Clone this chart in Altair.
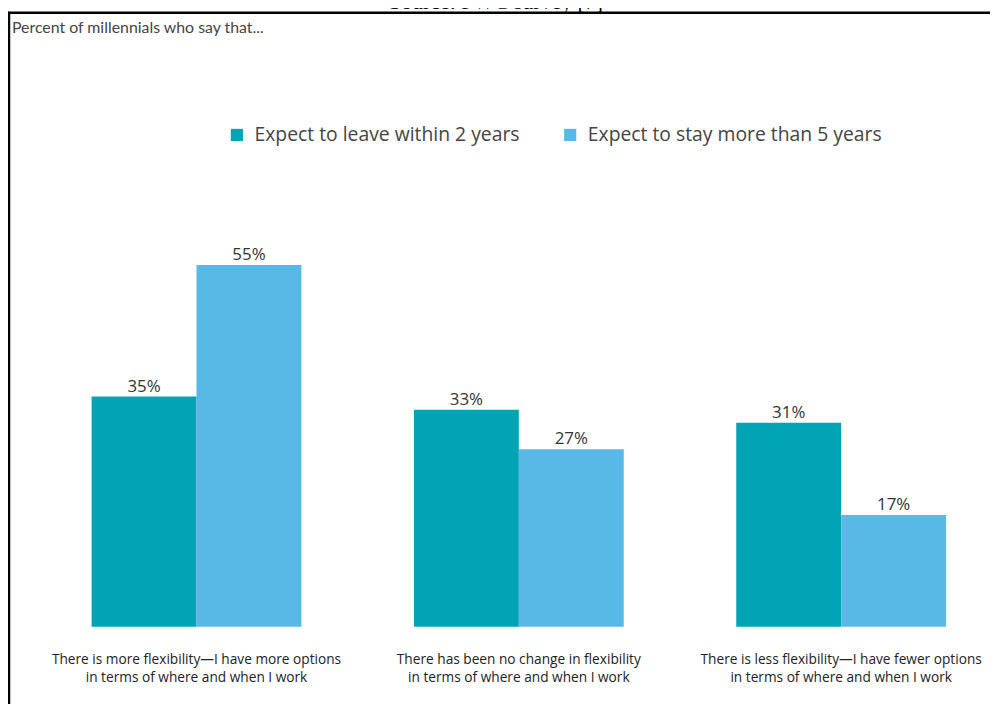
import altair as alt
import pandas as pd

categories = [
    "There is more flexibility\u2014I have more options|in terms of where and when I work",
    "There has been no change in flexibility|in terms of where and when I work",
    "There is less flexibility\u2014I have fewer options|in terms of where and when I work",
]
series = ["Expect to leave within 2 years", "Expect to stay more than 5 years"]
leave_within_2 = [35, 33, 31]
stay_more_5 = [55, 27, 17]
colors = ["#00A4B4", "#58B9E7"]

title_text = "Percent of millennials who say that..."
source_text = "Source: PWC survey [7]"

rows = []
for i, c in enumerate(categories):
    rows.append({"category": c, "series": series[0], "value": leave_within_2[i]})
    rows.append({"category": c, "series": series[1], "value": stay_more_5[i]})
df = pd.DataFrame(rows)
df["label"] = df["value"].astype(str) + "%"

FONT = "Open Sans"

x_enc = alt.X(
    "category:N",
    sort=categories,
    scale=alt.Scale(paddingInner=0.349, paddingOuter=0.0993),
    axis=alt.Axis(
        title=None,
        labelExpr="split(datum.label, '|')",
        labelAngle=0,
        labelLimit=0,
        domain=False,
        ticks=False,
        labelPadding=26,
        labelFont=FONT,
        labelFontSize=13.8,
        labelLineHeight=18,
        labelColor="#222222",
    ),
)
xoff_enc = alt.XOffset("series:N", sort=series, scale=alt.Scale(paddingInner=0, paddingOuter=0))
y_enc = alt.Y("value:Q", scale=alt.Scale(domain=[0, 60], nice=False), axis=None)

base = alt.Chart(df)

bars = base.mark_bar().encode(
    x=x_enc,
    xOffset=xoff_enc,
    y=y_enc,
    color=alt.Color(
        "series:N",
        sort=series,
        scale=alt.Scale(domain=series, range=colors),
        legend=alt.Legend(
            title=None,
            orient="none",
            legendX=169,
            legendY=-108,
            direction="horizontal",
            symbolType="square",
            symbolSize=150,
            symbolStrokeWidth=0,
            labelFont=FONT,
            labelFontSize=19.5,
            labelColor="#444444",
            labelOffset=8,
            columnPadding=41,
            labelLimit=0,
        ),
    ),
)

labels = base.mark_text(baseline="bottom", dy=-1, font=FONT, fontSize=17, color="#333333").encode(
    x=alt.X("category:N", sort=categories),
    xOffset=alt.XOffset("series:N", sort=series),
    y=alt.Y("value:Q"),
    text="label:N",
)

deco = pd.DataFrame({"k": [0]})
left_line = alt.Chart(deco).mark_rule(color="black", strokeWidth=2.5).encode(
    x=alt.value(-51), y=alt.value(-222), y2=alt.value(500)
)
top_line = alt.Chart(deco).mark_rule(color="black", strokeWidth=2.5).encode(
    x=alt.value(-52), x2=alt.value(960), y=alt.value(-221)
)
title = alt.Chart(deco).mark_text(
    text=title_text, align="left", baseline="alphabetic", font="Lato", fontSize=16, color="#444444"
).encode(x=alt.value(-48), y=alt.value(-201))
source = alt.Chart(deco).mark_text(
    text=source_text, align="center", baseline="alphabetic", font="Liberation Serif", fontSize=22, color="#000000"
).encode(x=alt.value(440), y=alt.value(-225))

chart = (
    alt.layer(bars, labels, left_line, top_line, title, source)
    .properties(
        width=926,
        height=398,
        autosize=alt.AutoSizeParams(type="none"),
        padding={"left": 52, "top": 223, "right": 12, "bottom": 75},
        background="white",
    )
    .configure_view(stroke=None)
)

chart.save("out.html", embed_options={"renderer": "svg", "actions": False})
